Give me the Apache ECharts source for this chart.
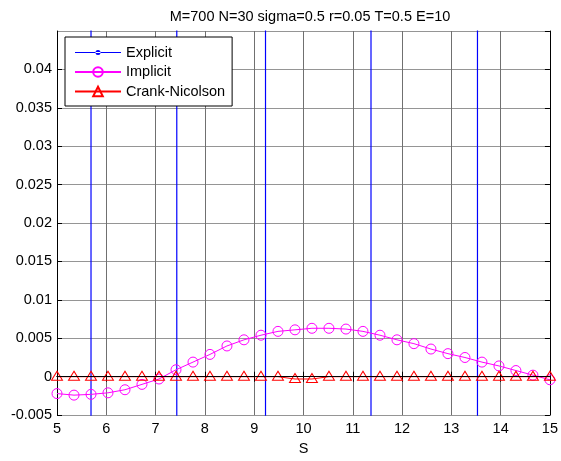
<!DOCTYPE html>
<html>
<head>
<meta charset="utf-8">
<script src="https://cdn.jsdelivr.net/npm/echarts@6/dist/echarts.min.js"></script>
<style>
  html, body { margin: 0; padding: 0; background: #fff; }
  #main { width: 561px; height: 461px; }
</style>
</head>
<body>
<div id="main"></div>
<script>
// S grid (30 points between 5 and 15)
var sValues = [5, 5.345, 5.690, 6.034, 6.379, 6.724, 7.069, 7.414, 7.759, 8.103,
               8.448, 8.793, 9.138, 9.483, 9.828, 10.172, 10.517, 10.862, 11.207, 11.552,
               11.897, 12.241, 12.586, 12.931, 13.276, 13.621, 13.966, 14.310, 14.655, 15];
// implicit scheme values
var implicitValues = [-0.0022, -0.0024, -0.0023, -0.0021, -0.0017, -0.0010, -0.0003, 0.0009, 0.0019, 0.0029,
                      0.0040, 0.0048, 0.0054, 0.0059, 0.0061, 0.0063, 0.0063, 0.0062, 0.0059, 0.0054,
                      0.0048, 0.0043, 0.0036, 0.0030, 0.0025, 0.0019, 0.0014, 0.0008, 0.0002, -0.0004];
// Crank-Nicolson values (almost zero)
var cnValues = [0, 0, 0, 0, 0, 0, 0, 0, 0, 0,
                0, 0, 0, 0, -0.0003, -0.0003, 0, 0, 0, 0,
                0, 0, 0, 0, 0, 0, 0, 0, 0, 0];
// explicit scheme blows up: it swings far off the plot, so only
// near-vertical strokes show at these S
var explicitS = [5.69, 7.43, 9.23, 11.37, 13.53];
var explicitSwing = [1, -1, 1, -1, 1];   // sign of the off-chart swing at each stroke

var titleText = 'M=700 N=30 sigma=0.5 r=0.05 T=0.5 E=10';
var fontName = 'Liberation Sans, Arial, sans-serif';

function pairs(xs, ys) {
    var out = [];
    for (var i = 0; i < xs.length; i++) out.push([xs[i], ys[i]]);
    return out;
}

// each stroke goes from one far value to the opposite one; the links between
// strokes lie far outside the grid and are clipped
function explicitData() {
    var out = [];
    for (var i = 0; i < explicitS.length; i++) {
        out.push([explicitS[i], explicitSwing[i]]);
        out.push([explicitS[i], -explicitSwing[i]]);
    }
    return out;
}

var myChart = echarts.init(document.getElementById('main'));

var option = {
    animation: false,
    backgroundColor: '#fff',
    title: {
        text: titleText,
        left: 305,
        textAlign: 'center',
        top: 4,
        textStyle: { fontFamily: fontName, fontSize: 14.5, fontWeight: 'normal', color: '#000' }
    },
    grid: { left: 57, right: 8, top: 31, bottom: 42 },
    legend: {
        orient: 'vertical',
        left: 65,
        top: 37,
        padding: [8, 7, 7, 9],
        itemWidth: 46,
        itemHeight: 12,
        itemGap: 4.5,
        backgroundColor: '#fff',
        borderColor: '#000',
        borderWidth: 1,
        textStyle: { fontFamily: fontName, fontSize: 14.5, color: '#000' },
        data: [
            {
                name: 'Explicit',
                icon: 'path://M0 4.5H46V5.5H0Z M20.5 5A2.5 2.5 0 1 0 25.5 5A2.5 2.5 0 1 0 20.5 5Z',
                itemStyle: { color: '#0000ff', opacity: 1 }
            },
            { name: 'Implicit' },
            { name: 'Crank-Nicolson' }
        ]
    },
    xAxis: [{
        type: 'value',
        min: 5,
        max: 15,
        interval: 1,
        name: 'S',
        nameLocation: 'middle',
        nameGap: 25,
        nameTextStyle: { fontFamily: fontName, fontSize: 14.5, color: '#000' },
        axisLine: { show: true, lineStyle: { color: '#000', width: 1 } },
        axisTick: { show: true, inside: true, length: 5, lineStyle: { color: '#000' } },
        axisLabel: { fontFamily: fontName, fontSize: 14.5, color: '#000', margin: 6 },
        splitLine: { show: true, lineStyle: { color: '#707070', width: 1 } }
    }, {
        type: 'value',
        position: 'top',
        min: 5,
        max: 15,
        interval: 1,
        axisLine: { show: true, lineStyle: { color: '#000', width: 1 } },
        axisTick: { show: true, inside: true, length: 5, lineStyle: { color: '#000' } },
        axisLabel: { show: false },
        splitLine: { show: false }
    }],
    yAxis: [{
        type: 'value',
        min: -0.005,
        max: 0.045,
        interval: 0.005,
        axisLine: { show: true, lineStyle: { color: '#000', width: 1 } },
        axisTick: { show: true, inside: true, length: 5, lineStyle: { color: '#000' } },
        axisLabel: { fontFamily: fontName, fontSize: 14.5, color: '#000', margin: 5, showMaxLabel: false },
        splitLine: { show: true, lineStyle: { color: '#959595', width: 1 } }
    }, {
        type: 'value',
        position: 'right',
        min: -0.005,
        max: 0.045,
        interval: 0.005,
        axisLine: { show: true, lineStyle: { color: '#000', width: 1 } },
        axisTick: { show: true, inside: true, length: 5, lineStyle: { color: '#000' } },
        axisLabel: { show: false },
        splitLine: { show: false }
    }],
    series: [{
        name: 'Explicit',
        type: 'line',
        data: explicitData(),
        symbol: 'circle',
        symbolSize: 5,
        showAllSymbol: true,
        color: '#0000ff',
        itemStyle: { color: '#0000ff' },
        lineStyle: { color: '#0000ff', width: 1.2 },
        clip: true,
        z: 2
    }, {
        name: 'Implicit',
        type: 'line',
        data: pairs(sValues, implicitValues),
        symbol: 'circle',
        symbolSize: 10,
        showAllSymbol: true,
        color: '#ff00ff',
        itemStyle: { color: 'rgba(255,255,255,0)', borderColor: '#ff00ff', borderWidth: 1 },
        lineStyle: { color: '#ff00ff', width: 1 },
        clip: true,
        z: 3
    }, {
        name: 'Crank-Nicolson',
        type: 'line',
        data: pairs(sValues, cnValues),
        symbol: 'triangle',
        symbolSize: [11, 9],
        symbolOffset: [0, -1],
        showAllSymbol: true,
        color: '#ff0000',
        itemStyle: { color: 'rgba(255,255,255,0)', borderColor: '#ff0000', borderWidth: 1 },
        lineStyle: { color: '#ff0000', width: 1 },
        clip: true,
        z: 4,
        markLine: {
            silent: true,
            symbol: ['none', 'none'],
            label: { show: false },
            lineStyle: { color: '#000', width: 1, type: 'solid' },
            data: [{ yAxis: 0 }]
        }
    }]
};

myChart.setOption(option);
</script>
</body>
</html>
